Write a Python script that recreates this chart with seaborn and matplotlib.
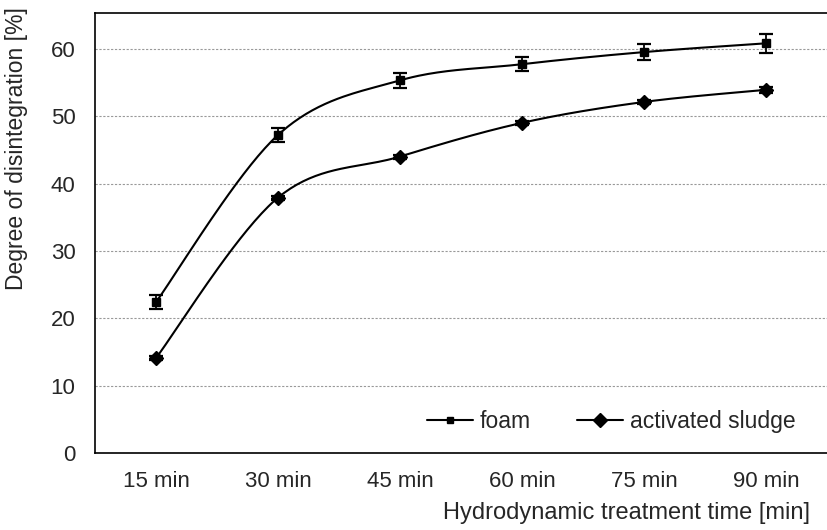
import numpy as np
import pandas as pd
import matplotlib
matplotlib.use('Agg')
import matplotlib.pyplot as plt
from matplotlib.lines import Line2D
import seaborn as sns

times = ['15 min', '30 min', '45 min', '60 min', '75 min', '90 min']
foam = [22.4, 47.2, 55.3, 57.7, 59.5, 60.8]
foam_err = [1.0, 1.0, 1.1, 1.0, 1.2, 1.4]
sludge = [14.1, 37.9, 44.0, 49.0, 52.1, 53.9]
sludge_err = [0.3, 0.3, 0.3, 0.3, 0.3, 0.4]

sns.set_style('white')
plt.rcParams['font.family'] = ['Liberation Sans', 'DejaVu Sans']


def smooth(y, n=40):
    # Catmull-Rom curve through the points (like Excel's smoothed line)
    x = np.arange(len(y), dtype=float)
    y = np.asarray(y, dtype=float)
    px = np.concatenate([[x[0]], x, [x[-1]]])
    py = np.concatenate([[y[0]], y, [y[-1]]])
    xs, ys = [], []
    for i in range(1, len(px) - 2):
        p0, p1, p2, p3 = [np.array([px[j], py[j]]) for j in (i - 1, i, i + 1, i + 2)]
        b1 = p1 + (p2 - p0) / 6
        b2 = p2 - (p3 - p1) / 6
        t = np.linspace(0, 1, n)[:, None]
        pts = (1 - t) ** 3 * p1 + 3 * (1 - t) ** 2 * t * b1 + 3 * (1 - t) * t ** 2 * b2 + t ** 3 * p2
        xs.extend(pts[:, 0]); ys.extend(pts[:, 1])
    return pd.DataFrame({'x': xs, 'y': ys})


fig = plt.figure(figsize=(8.28, 5.30), dpi=100)
ax = fig.add_axes([0.1147, 0.145, 0.884, 0.8305])

pos = np.arange(len(times))
for vals, err, mk, ms in [(foam, foam_err, 's', 5.5), (sludge, sludge_err, 'D', 7)]:
    sns.lineplot(data=smooth(vals), x='x', y='y', ax=ax, color='black', lw=1.5, sort=False)
    ax.errorbar(pos, vals, yerr=err, fmt=mk, color='black', ms=ms, capsize=5,
                elinewidth=1.3, capthick=1.6)

ax.set_xlim(-0.5, 5.5)
ax.set_ylim(0, 65.3)
ax.set_yticks(range(0, 61, 10))
ax.yaxis.grid(True, color='#999999', lw=0.8, ls=(0, (2, 1.5)))
ax.set_xticks(pos)
ax.set_xticklabels(times, fontsize=16)
ax.set_xticks(np.arange(0.5, 5, 1), minor=True)
ax.tick_params(axis='x', which='major', length=0, pad=13)
ax.tick_params(axis='x', which='minor', length=5, direction='inout', color='#888888')
ax.tick_params(axis='y', length=6, direction='out', color='#888888', labelsize=16, pad=8)
for s in ['left', 'bottom', 'top']:
    ax.spines[s].set_color('black')
    ax.spines[s].set_linewidth(1.2)
ax.spines['right'].set_visible(False)

ax.set_xlabel('Hydrodynamic treatment time [min]', fontsize=17, loc='right')
ax.xaxis.set_label_coords((810 - 95) / 732, -0.112)
ax.set_ylabel('Degree of disintegration [%]', fontsize=16.5)
ax.yaxis.set_label_coords(-0.0915, 0.692)

handles = [Line2D([], [], color='black', marker='s', ms=4.5, lw=1.5),
           Line2D([], [], color='black', marker='D', ms=7, lw=1.5)]
ax.legend(handles, ['foam', 'activated sludge'], ncol=2, frameon=False, fontsize=16.5,
          loc='lower right', bbox_to_anchor=(0.985, -0.002), handlelength=2.0,
          handletextpad=0.3, columnspacing=2.0)

fig.savefig('out.png', dpi=100)
